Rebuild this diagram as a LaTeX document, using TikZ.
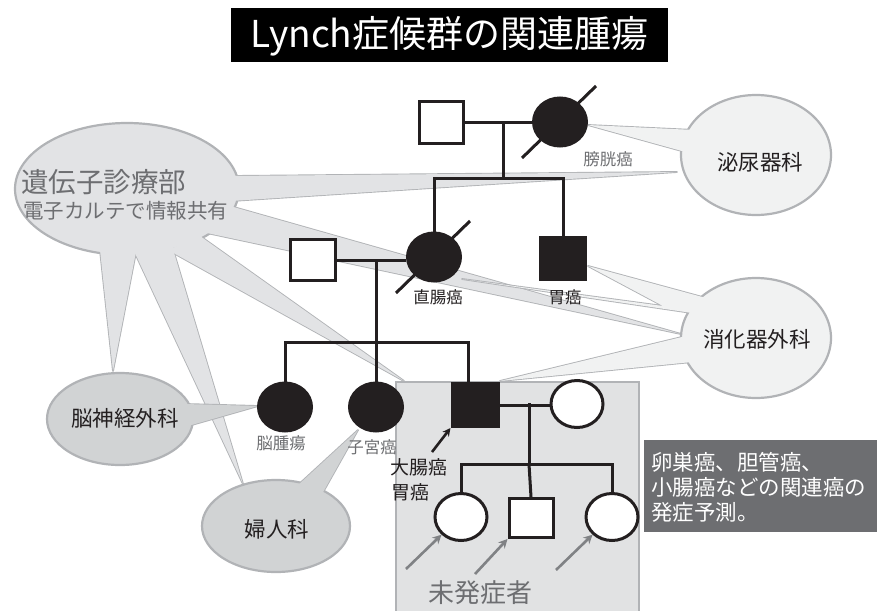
\documentclass[tikz,border=0pt]{standalone}
\usepackage{fontspec}
\newfontfamily\jp{Noto Sans CJK JP}
\usetikzlibrary{shapes.geometric,arrows.meta,calc}
\definecolor{cfillA}{HTML}{E2E3E5}
\definecolor{cstroke}{HTML}{B1B3B6}
\definecolor{cfillB}{HTML}{D1D3D4}
\definecolor{cfillC}{HTML}{F1F2F2}
\definecolor{tgray}{HTML}{6D6E71}
\definecolor{boxfill}{HTML}{E1E2E3}
\definecolor{dbox}{HTML}{6D6E71}
\definecolor{agray}{HTML}{808285}
\definecolor{ink}{HTML}{231F20}
\newcommand\jpfs[1]{\fontsize{#1}{#1}\selectfont}
\tikzset{
  every node/.style={font=\jp, inner sep=0pt},
  ped/.style={draw=ink, line width=3pt},
  sqo/.style={rectangle, draw=ink, fill=white, line width=3pt, minimum width=44, minimum height=42},
  sqf/.style={rectangle, draw=ink, fill=ink, line width=3pt, minimum width=45, minimum height=42},
  cio/.style={ellipse, draw=ink, fill=white, line width=3pt, minimum width=52, minimum height=47},
  cif/.style={ellipse, draw=ink, fill=ink, line width=3pt, minimum width=53, minimum height=48},
  wedgeA/.style={draw=cstroke, fill=cfillA, line width=1.8pt, line join=round},
  wedgeAf/.style={fill=cfillA},
  wedgeB/.style={draw=cstroke, fill=cfillB, line width=1.8pt, line join=round},
  wedgeBf/.style={fill=cfillB},
  wedgeC/.style={draw=cstroke, fill=cfillC, line width=1.8pt, line join=round},
  wedgeCf/.style={fill=cfillC},
  balA/.style={ellipse, draw=cstroke, fill=cfillA, line width=2.2pt},
  balB/.style={ellipse, draw=cstroke, fill=cfillB, line width=2.2pt},
  balC/.style={ellipse, draw=cstroke, fill=cfillC, line width=2.2pt},
  dlabel/.style={text=ink, font=\jp\jpfs{16.5}},
  glabel/.style={text=tgray, font=\jp\jpfs{16.5}},
  btext/.style={text=ink, font=\jp\jpfs{21.5}},
  garrow/.style={draw=agray, line width=2.6pt, -{Stealth[length=9pt,width=9pt]}},
  karrow/.style={draw=ink, line width=2.6pt, -{Stealth[length=8pt,width=8pt]}},
}
\begin{document}
\begin{tikzpicture}[x=1pt,y=-1pt]
\useasboundingbox (0,0) rectangle (877,610);

% area of unaffected relatives
\node[rectangle, draw=cstroke, fill=boxfill, line width=1.8pt, anchor=north west,
      minimum width=243, minimum height=232] (area) at (395,381) {};

% ---- genetics department balloon with wedges
\draw[wedgeA] (231,176) -- (677,172) -- (231,201) -- cycle;
\draw[wedgeA] (230,206) -- (681,334) -- (207,233) -- cycle;
\draw[wedgeA] (200,236) -- (404,381) -- (168,250) -- cycle;
\draw[wedgeA] (134,251) -- (243,484) -- (172,246) -- cycle;
\draw[wedgeA] (100,250) -- (113,371) -- (136,252) -- cycle;
\node[balA, minimum width=224, minimum height=132] (gen) at (127,189) {};
\fill[wedgeAf] (231,176) -- (677,172) -- (231,201) -- cycle;
\fill[wedgeAf] (230,206) -- (681,334) -- (207,233) -- cycle;
\fill[wedgeAf] (200,236) -- (404,381) -- (168,250) -- cycle;
\fill[wedgeAf] (134,251) -- (243,484) -- (172,246) -- cycle;
\fill[wedgeAf] (100,250) -- (113,371) -- (136,252) -- cycle;
\node[anchor=west, text=tgray, font=\jp\jpfs{27.5}] (gentitle) at (21,182) {遺伝子診療部};
\node[anchor=west, text=tgray, font=\jp\jpfs{20.5}] (gensub) at (23,211) {電子カルテで情報共有};

% ---- urology balloon
\draw[wedgeC] (694,130) -- (588,125) -- (689,153) -- cycle;
\node[balC, minimum width=150, minimum height=120] (uro) at (756,155) {};
\fill[wedgeCf] (694,130) -- (588,125) -- (689,153) -- cycle;
\node[btext] (urot) at (760,162) {泌尿器科};

% ---- gastro surgery balloon
\draw[wedgeC] (706,298) -- (588,266) -- (663,306) -- (462,279) -- (692,313) -- cycle;
\draw[wedgeC] (686,336) -- (500,381) -- (692,362) -- cycle;
\node[balC, minimum width=150, minimum height=120] (gas) at (756,338) {};
\fill[wedgeCf] (706,298) -- (588,266) -- (663,306) -- (462,279) -- (692,313) -- cycle;
\fill[wedgeCf] (686,336) -- (500,381) -- (692,362) -- cycle;
\node[btext] (gast) at (757,339) {消化器外科};

% ---- neurosurgery balloon
\draw[wedgeB] (185,404) -- (258,406) -- (188,426) -- cycle;
\node[balB, minimum width=146, minimum height=92] (neu) at (120,419) {};
\fill[wedgeBf] (185,404) -- (258,406) -- (188,426) -- cycle;
\node[btext] (neut) at (125,418) {脳神経外科};

% ---- gynecology balloon
\draw[wedgeB] (297,486) -- (358,430) -- (322,494) -- cycle;
\node[balB, minimum width=148, minimum height=92] (gyn) at (276,526) {};
\fill[wedgeBf] (297,486) -- (358,430) -- (322,494) -- cycle;
\node[btext] (gynt) at (277,529) {婦人科};

% ---- pedigree: generation I
\node[sqo] (i1) at (441,122) {};
\node[cif] (i2) at (560,122) {};
\coordinate (d1) at (503,122);
\coordinate (s1) at (503,178);
% generation II
\node[sqo, minimum width=45, minimum height=41] (ii0) at (313,260) {};
\node[cif] (ii1) at (434,257) {};
\node[sqf] (ii2) at (563,258) {};
\coordinate (d2) at (376,259);
\coordinate (s2) at (376,342);
% generation III
\node[cif] (iii1) at (285,407) {};
\node[cif] (iii2) at (376,407) {};
\node[sqf, minimum width=46, minimum height=43] (prb) at (475,405) {};
\coordinate (prbtop) at ($(prb.north)+(-7,0)$);
\node[cio] (iii4) at (577,404) {};
\coordinate (d3) at (529,403);
\coordinate (s3) at (529,464);
% generation IV
\node[cio] (iv1) at (461,517) {};
\node[sqo, minimum width=44, minimum height=39] (iv2) at (531,518) {};
\node[cio] (iv3) at (612,517) {};

% pedigree lines
\draw[ped] (i1.east) -- (i2.west);
\draw[ped] (d1) -- (s1);
\draw[ped] (ii1.north) -- (ii1.north |- s1) -- (ii2.north |- s1) -- (ii2.north);
\draw[ped] (ii0.east) -- (ii0.east -| ii1.west);
\draw[ped] (d2) -- (s2);
\draw[ped] (iii1.north) -- (iii1.north |- s2) -- (prbtop |- s2) -- (prbtop);
\draw[ped] (s2) -- (iii2.north);
\draw[ped] (prb.east) -- (prb.east -| iii4.west);
\draw[ped] (d3) -- (s3);
\draw[ped] (iv1.north) -- (iv1.north |- s3) -- (iv3.north |- s3) -- (iv3.north);
\draw[ped] (s3) -- (iv2.north);
% deceased slashes
\draw[ped] ($(i2)+(-38,36)$) -- ($(i2)+(36,-36)$);
\draw[ped] ($(ii1)+(-38,36)$) -- ($(ii1)+(36,-36)$);

% labels
\node[glabel] (lb1) at (608,159) {膀胱癌};
\node[dlabel] (lb2) at (438,297) {直腸癌};
\node[dlabel] (lb3) at (565,297) {胃癌};
\node[glabel] (lb4) at (281,443) {脳腫瘍};
\node[glabel] (lb5) at (372,447) {子宮癌};
\node[anchor=west, text=ink, font=\jp\jpfs{19}] (lb6) at (390,467) {大腸癌};
\node[anchor=west, text=ink, font=\jp\jpfs{19}] (lb7) at (391,492) {胃癌};
\coordinate (pa) at (432,452);
\draw[karrow] (pa) -- (prb.south west);

% unaffected arrows
\coordinate (u1) at (406,569);
\coordinate (u2) at (475,574);
\coordinate (u3) at (556,570);
\draw[garrow] (u1) -- (iv1.south west);
\draw[garrow] (u2) -- (iv2.south west);
\draw[garrow] (u3) -- (iv3.south west);
\node[text=tgray, font=\jp\jpfs{26}] (unaff) at (480,593) {未発症者};

% prediction box
\node[rectangle, fill=dbox, anchor=north west, minimum width=233, minimum height=92] (pred) at (644,440) {};
\node[anchor=west, align=left, text=white, font=\jp\fontsize{21.5}{25}\selectfont] (predt) at (651,487)
  {卵巣癌、胆管癌、\\小腸癌などの関連癌の\\発症予測。};

% title
\node[rectangle, fill=black, minimum width=437, minimum height=54] (title) at (449.5,35) {};
\node[text=white, font=\jp\jpfs{37}] (titlet) at (449.5,36) {Lynch症候群の関連腫瘍};
\end{tikzpicture}
\end{document}
